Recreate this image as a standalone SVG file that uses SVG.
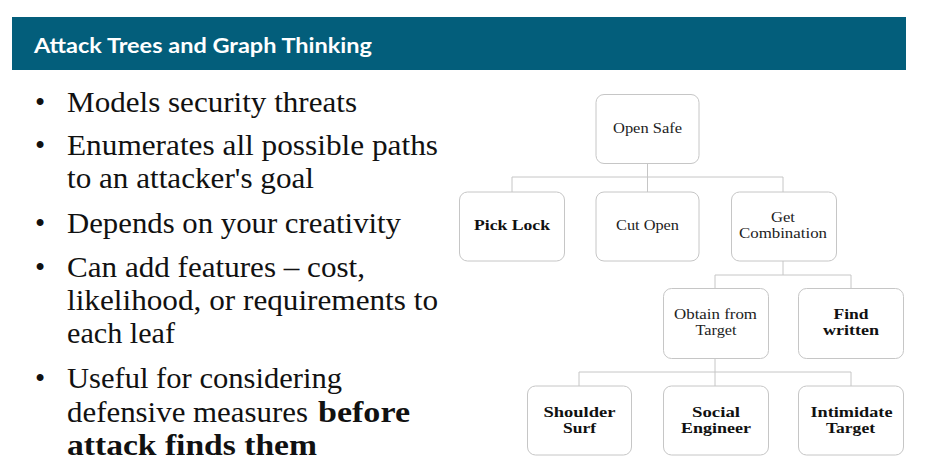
<svg xmlns="http://www.w3.org/2000/svg" width="925" height="463" viewBox="0 0 925 463">
  <style>
    .title { font-family: Lato, "Open Sans", sans-serif; font-weight: bold; font-size: 20px; fill: #ffffff; }
    .bullet { font-family: "Liberation Serif", "Times New Roman", serif; font-size: 29px; fill: #111111; }
    .b { font-weight: bold; }
    .box { fill: #ffffff; stroke: #c6c6c6; stroke-width: 1; }
    .lbl { font-family: "Liberation Serif", "Times New Roman", serif; font-size: 15.5px; fill: #222222; text-anchor: middle; }
    .lblb { font-weight: bold; fill: #111111; }
    .conn { fill: none; stroke: #c6c6c6; stroke-width: 1; }
  </style>

  <rect x="0" y="0" width="925" height="463" fill="#ffffff"/>

  <!-- header banner -->
  <rect x="12" y="17" width="894" height="53" fill="#035e7b"/>
  <text class="title" x="34" y="53" textLength="338" lengthAdjust="spacingAndGlyphs">Attack Trees and Graph Thinking</text>

  <!-- bullet list -->
  <g id="bullets">
    <g class="bullet">
      <text x="35" y="112">•</text>
      <text x="67" y="112" textLength="290" lengthAdjust="spacingAndGlyphs">Models security threats</text>
      <text x="35" y="155">•</text>
      <text x="67" y="155" textLength="371" lengthAdjust="spacingAndGlyphs">Enumerates all possible paths</text>
      <text x="67" y="188" textLength="247" lengthAdjust="spacingAndGlyphs">to an attacker's goal</text>
      <text x="35" y="233">•</text>
      <text x="67" y="233" textLength="334" lengthAdjust="spacingAndGlyphs">Depends on your creativity</text>
      <text x="35" y="277">•</text>
      <text x="67" y="277" textLength="298" lengthAdjust="spacingAndGlyphs">Can add features – cost,</text>
      <text x="67" y="310" textLength="371" lengthAdjust="spacingAndGlyphs">likelihood, or requirements to</text>
      <text x="67" y="343" textLength="108" lengthAdjust="spacingAndGlyphs">each leaf</text>
      <text x="35" y="388">•</text>
      <text x="67" y="388" textLength="275" lengthAdjust="spacingAndGlyphs">Useful for considering</text>
      <text x="67" y="422" textLength="241" lengthAdjust="spacingAndGlyphs">defensive measures</text>
      <text x="318" y="422" class="b" textLength="92" lengthAdjust="spacingAndGlyphs">before</text>
      <text x="67" y="455" class="b" textLength="250" lengthAdjust="spacingAndGlyphs">attack finds them</text>
    </g>
  </g>

  <!-- connectors -->
  <g id="connectors" class="conn">
    <path d="M647.5 164 V177 M512 192 V177 H783 V192 M647.5 177 V192"/>
    <path d="M783 261 V275 M715 288 V275 H851 V288"/>
    <path d="M715 358 V372 M579 386 V372 H851 V386 M715 372 V386"/>
  </g>

  <!-- nodes -->
  <g id="open-safe">
    <rect class="box" x="596" y="94.5" width="103" height="69" rx="8"/>
    <text class="lbl" x="647.5" y="133" textLength="69" lengthAdjust="spacingAndGlyphs">Open Safe</text>
  </g>
  <g id="pick-lock">
    <rect class="box" x="459.5" y="192" width="105" height="69" rx="8"/>
    <text class="lbl lblb" x="512" y="230" textLength="76" lengthAdjust="spacingAndGlyphs">Pick Lock</text>
  </g>
  <g id="cut-open">
    <rect class="box" x="596" y="192" width="103" height="69" rx="8"/>
    <text class="lbl" x="647.5" y="230" textLength="63" lengthAdjust="spacingAndGlyphs">Cut Open</text>
  </g>
  <g id="get-combination">
    <rect class="box" x="731.5" y="192" width="105" height="69" rx="8"/>
    <text class="lbl" x="783" y="222" textLength="24" lengthAdjust="spacingAndGlyphs">Get</text>
    <text class="lbl" x="783" y="238" textLength="88" lengthAdjust="spacingAndGlyphs">Combination</text>
  </g>
  <g id="obtain-from-target">
    <rect class="box" x="663.5" y="288.5" width="105" height="70" rx="8"/>
    <text class="lbl" x="715.5" y="319" textLength="83" lengthAdjust="spacingAndGlyphs">Obtain from</text>
    <text class="lbl" x="716" y="335" textLength="41" lengthAdjust="spacingAndGlyphs">Target</text>
  </g>
  <g id="find-written">
    <rect class="box" x="798.5" y="288.5" width="105" height="70" rx="8"/>
    <text class="lbl lblb" x="851" y="319" textLength="35" lengthAdjust="spacingAndGlyphs">Find</text>
    <text class="lbl lblb" x="851" y="335" textLength="56" lengthAdjust="spacingAndGlyphs">written</text>
  </g>
  <g id="shoulder-surf">
    <rect class="box" x="527.5" y="386" width="104" height="69" rx="8"/>
    <text class="lbl lblb" x="579.5" y="416.5" textLength="72" lengthAdjust="spacingAndGlyphs">Shoulder</text>
    <text class="lbl lblb" x="579.5" y="432.5" textLength="33" lengthAdjust="spacingAndGlyphs">Surf</text>
  </g>
  <g id="social-engineer">
    <rect class="box" x="663.5" y="386" width="105" height="69" rx="8"/>
    <text class="lbl lblb" x="716" y="416.5" textLength="48" lengthAdjust="spacingAndGlyphs">Social</text>
    <text class="lbl lblb" x="716" y="432.5" textLength="70" lengthAdjust="spacingAndGlyphs">Engineer</text>
  </g>
  <g id="intimidate-target">
    <rect class="box" x="798.5" y="386" width="105" height="69" rx="8"/>
    <text class="lbl lblb" x="851.5" y="416.5" textLength="82" lengthAdjust="spacingAndGlyphs">Intimidate</text>
    <text class="lbl lblb" x="850.5" y="432.5" textLength="49" lengthAdjust="spacingAndGlyphs">Target</text>
  </g>
</svg>
